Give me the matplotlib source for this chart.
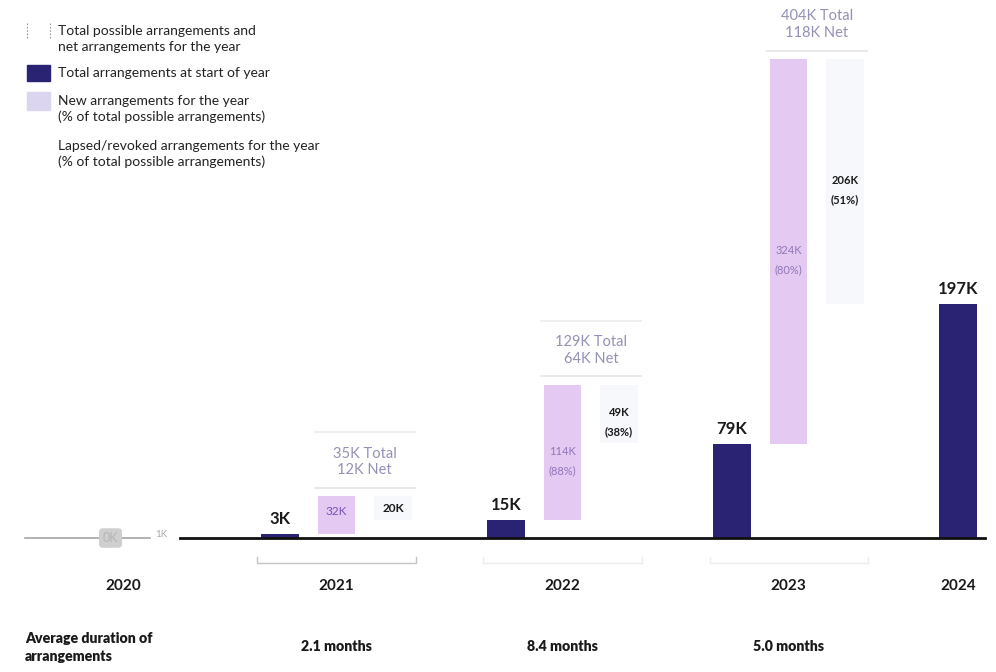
import numpy as np
import matplotlib.pyplot as plt

plt.rcParams['font.family'] = ['Lato', 'DejaVu Sans']

# waterfall years (start bar, new bar, lapsed bar)
years = ['2021', '2022', '2023']
start = [3, 15, 79]
new = [32, 114, 324]
new_pct = ['', '88%', '80%']
lapsed = [20, 49, 206]
lapsed_pct = ['', '38%', '51%']
total = [35, 129, 404]
net = [12, 64, 118]
duration = ['2.1 months', '8.4 months', '5.0 months']

end_year = '2024'
end_value = 197

navy = '#2a2373'
pink = '#e4c9f2'
lapsed_col = '#f7f8fc'
faint = '#9391b5'

fig = plt.figure(figsize=(9.96, 6.72), dpi=100)
ax = fig.add_axes([0, 0, 1, 1])
ax.set_xlim(-0.956, 16.67)
ax.set_ylim(-112.8, 452.9)
ax.axis('off')

w = 0.66
for i, yr in enumerate(years):
    k = 4 + 4 * i
    s, n, l = start[i], new[i], lapsed[i]
    top = s + n
    ax.bar(k, s, width=w, color=navy, zorder=3)
    ax.bar(k + 1, n, bottom=s, width=w, color=pink, zorder=2)
    ax.bar(k + 2, -l, bottom=top, width=w, color=lapsed_col, zorder=2)

    ax.text(k, s + 13, f'{s}K', ha='center', va='center', fontsize=12,
            fontweight='bold', color='#1a1a1a')

    if new_pct[i]:
        ax.text(k + 1, s + n / 2 - 7, f'{n}K\n({new_pct[i]})', ha='center',
                va='center', fontsize=8, color='#9077b8', linespacing=1.9)
        ax.text(k + 2, top - l / 2 - 7, f'{l}K\n({lapsed_pct[i]})', ha='center',
                va='center', fontsize=8, fontweight='bold', color='#1a1a1a',
                linespacing=1.9)
    else:
        ax.text(k + 1, s + n / 2 + 3, f'{n}K', ha='center', va='center',
                fontsize=8.5, color='#7b4fb5')
        ax.text(k + 2, top - l / 2, f'{l}K', ha='center', va='center',
                fontsize=8.5, fontweight='bold', color='#1a1a1a')

    # total / net callout above the new and lapsed bars
    ax.text(k + 1.5, top + 29, f'{total[i]}K Total\n{net[i]}K Net', ha='center',
            va='center', fontsize=10.5, color=faint, linespacing=1.25)
    ax.plot([k + 1 - w / 2 - 0.05, k + 2 + w / 2 + 0.05], [top + 7, top + 7],
            color='#e4e4ea', lw=1.2, zorder=1)
    if i < 2:
        ax.plot([k + 1 - w / 2 - 0.05, k + 2 + w / 2 + 0.05], [top + 54, top + 54],
                color='#ececf0', lw=1.2, zorder=1)

    # bracket under each year
    bc = '#c4c4c4' if i == 0 else '#ededed'
    ax.plot([k - 0.4, k - 0.4, k + 2.4, k + 2.4], [-16, -21, -21, -16],
            color=bc, lw=1)

    ax.text(k + 1, -40, yr, ha='center', va='center', fontsize=11,
            fontweight='bold', color='#1a1a1a')
    ax.text(k + 1, -91, duration[i], ha='center', va='center', fontsize=10.2,
            fontweight='heavy', color='#1a1a1a')

# final year
ax.bar(16, end_value, width=w, color=navy, zorder=3)
ax.text(16, end_value + 13, f'{end_value}K', ha='center', va='center',
        fontsize=12, fontweight='bold', color='#1a1a1a')
ax.text(16, -40, end_year, ha='center', va='center', fontsize=11,
        fontweight='bold', color='#1a1a1a')

# 2020 (greyed out)
ax.plot([-0.51, 1.7], [0, 0], color='#a5a5a5', lw=1.2, zorder=1)
ax.text(1.0, 0, '0K', ha='center', va='center', fontsize=9, color='#b5b5b5',
        bbox=dict(boxstyle='round,pad=0.3', fc='#cfcfcf', ec='none'))
ax.text(1.9, 3, '1K', ha='center', va='center', fontsize=7, color='#aaaaaa')
ax.text(1.22, -40, '2020', ha='center', va='center', fontsize=11,
        fontweight='bold', color='#1a1a1a')

# axis baseline
ax.plot([2.23, 16.48], [0, 0], color='#111111', lw=2, zorder=4)

ax.text(-0.51, -92, 'Average duration of\narrangements', ha='left',
        va='center', fontsize=10.2, fontweight='heavy', color='#1a1a1a',
        linespacing=1.5)

# legend
def px(x, y):
    return fig.transFigure.inverted().transform((x, 672 - y))

legend_items = [
    ('box', 'Total possible arrangements and\nnet arrangements for the year', 39),
    (navy, 'Total arrangements at start of year', 73),
    ('#dcd5f0', 'New arrangements for the year\n(% of total possible arrangements)', 109),
    (None, 'Lapsed/revoked arrangements for the year\n(% of total possible arrangements)', 154),
]
for col, label, yc in legend_items:
    if col == 'box':
        x0, y0 = px(27, 38)
        x1, y1 = px(50, 22)
        for xx in (x0, x1):
            fig.add_artist(plt.Line2D([xx, xx], [y0, y1], color='#999999',
                                      lw=0.8, ls=(0, (1.5, 1.5))))
    elif col is not None:
        sq = 16 if col == navy else 17
        x0, y0 = px(27, 73 + sq / 2 if col == navy else 101 + sq / 2)
        ww, hh = px(27 + 23, 0)[0] - px(27, 0)[0], sq / 672
        fig.add_artist(plt.Rectangle((x0, y0), ww, hh, color=col,
                                     transform=fig.transFigure))
    tx, ty = px(58, yc)
    fig.text(tx, ty, label, ha='left', va='center', fontsize=10,
             color='#222222', linespacing=1.4)

fig.savefig('out.png', dpi=100)
